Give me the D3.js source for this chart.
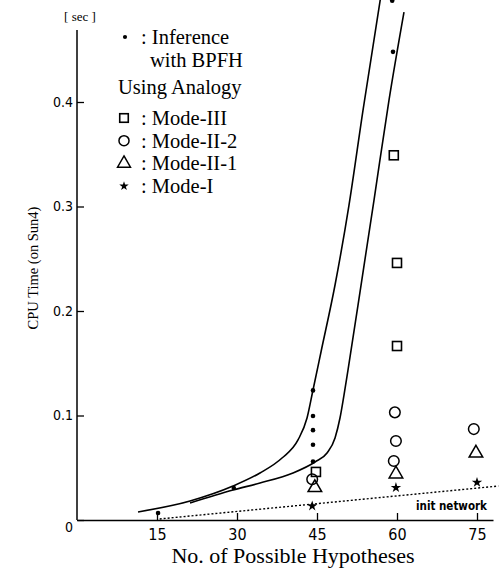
<!DOCTYPE html>
<html><head><meta charset="utf-8">
<script src="https://cdn.jsdelivr.net/npm/d3@7"></script>
<style>html,body{margin:0;padding:0;background:#fff;}svg{display:block;}</style>
</head><body>
<svg id="chart" width="499" height="572"></svg>
<script>
// ---- data ----
const xTicks = [15, 30, 45, 60, 75];
const yTicks = [0, 0.1, 0.2, 0.3, 0.4];
const yTickLabels = ["0", "0.1", "0.2", "0.3", "0.4"];

// Inference with BPFH (dots) [x, sec]
const bpfh = [[15.2, 0.0067], [29.4, 0.0306], [44.25, 0.124], [44.25, 0.0995], [44.25, 0.086], [44.25, 0.072], [44.25, 0.056], [59.25, 0.448], [59.1, 0.497]];
// Using analogy
const modeIII  = [[44.8, 0.046], [59.4, 0.349], [60.0, 0.246], [60.0, 0.1665]];
const modeII2  = [[44.1, 0.039], [59.6, 0.103], [59.8, 0.0756], [59.4, 0.0565], [74.4, 0.087]];
const modeII1  = [[44.6, 0.031], [59.8, 0.044], [74.8, 0.064]];
const modeI    = [[44.1, 0.0134], [59.8, 0.031], [75.0, 0.036]];
// fitted curves
const curveUpper = [[11.44, 0.0077], [21.19, 0.0182], [29.25, 0.0325], [34.31, 0.045], [38.44, 0.0593], [41.44, 0.0766], [43.13, 0.0976], [44.25, 0.1244], [45.75, 0.1608], [48.38, 0.2249], [51.0, 0.3014], [53.63, 0.3923], [57.0, 0.5024]];
const curveLower = [[21.19, 0.0163], [29.25, 0.0287], [34.31, 0.0354], [40.5, 0.045], [44.63, 0.0555], [46.88, 0.0641], [48.38, 0.0785], [49.31, 0.0976], [50.06, 0.1196], [50.81, 0.1435], [52.69, 0.2057], [55.69, 0.3062], [58.5, 0.4019], [61.31, 0.4861]];
// init network (dotted)
const initNetwork = [[15.5, 0.001], [79, 0.0325]];

const legendItems = [
  {sym: "square", label: ": Mode-III"},
  {sym: "circle", label: ": Mode-II-2"},
  {sym: "triangle", label: ": Mode-II-1"},
  {sym: "star", label: ": Mode-I"}
];

// ---- layout ----
const svg = d3.select("#chart");
const serif = "'Liberation Serif','Times New Roman',serif";
const sans = "'Liberation Sans Narrow','DejaVu Sans Condensed','Liberation Sans',sans-serif";

const x = d3.scaleLinear().domain([0, 78]).range([77, 493]);
const y = d3.scaleLinear().domain([0, 0.5]).range([520, -2.5]);

// axes
const yAxis = svg.append("g").attr("transform", `translate(${x(0)},0)`)
  .call(d3.axisLeft(y).tickValues(yTicks).tickSize(-7).tickPadding(4)
        .tickFormat((d, i) => yTickLabels[i]));
yAxis.select(".domain").remove();
yAxis.selectAll("line").attr("stroke", "#000").attr("stroke-width", 1.3);
yAxis.selectAll("text").attr("font-family", sans).attr("font-size", 14).attr("fill", "#000");
yAxis.selectAll(".tick").filter(d => d === 0).select("text").attr("dy", "0.8em");
svg.append("line").attr("x1", x(0)).attr("x2", x(0)).attr("y1", y(0)).attr("y2", y(0.469))
  .attr("stroke", "#000").attr("stroke-width", 1.5);

const xAxis = svg.append("g").attr("transform", `translate(0,${y(0)})`)
  .call(d3.axisBottom(x).tickValues(xTicks).tickSize(-7).tickSizeOuter(0).tickPadding(9));
xAxis.select(".domain").attr("stroke", "#000").attr("stroke-width", 1.5);
xAxis.selectAll("line").attr("stroke", "#000").attr("stroke-width", 1.3);
xAxis.selectAll("text").attr("font-family", sans).attr("font-size", 16).attr("fill", "#000");

// axis titles
svg.append("text").attr("x", 80).attr("y", 21).attr("text-anchor", "middle")
  .attr("font-family", serif).attr("font-size", 13).text("[ sec ]");
svg.append("text").attr("transform", "translate(38,268) rotate(-90)").attr("text-anchor", "middle")
  .attr("font-family", serif).attr("font-size", 14.5).text("CPU Time (on Sun4)");
svg.append("text").attr("x", 293).attr("y", 563).attr("text-anchor", "middle")
  .attr("font-family", serif).attr("font-size", 22).text("No. of Possible Hypotheses");

// curves
const line = d3.line().x(d => x(d[0])).y(d => y(d[1])).curve(d3.curveMonotoneX);
[curveUpper, curveLower].forEach(c => {
  svg.append("path").datum(c).attr("d", line).attr("fill", "none")
    .attr("stroke", "#000").attr("stroke-width", 1.6);
});
svg.append("path").datum(initNetwork).attr("d", d3.line().x(d => x(d[0])).y(d => y(d[1])))
  .attr("fill", "none").attr("stroke", "#000").attr("stroke-width", 1.4).attr("stroke-dasharray", "2,2");
svg.append("text").attr("x", 416).attr("y", 510).attr("font-family", sans)
  .attr("font-size", 11.5).attr("font-weight", "bold").text("init network");

// markers
function drawSym(g, type, cx, cy, scale) {
  scale = scale || 1;
  if (type === "dot") {
    g.append("circle").attr("cx", cx).attr("cy", cy).attr("r", 2.3 * scale).attr("fill", "#000");
  } else if (type === "square") {
    const s = 9 * scale;
    g.append("rect").attr("x", cx - s / 2).attr("y", cy - s / 2).attr("width", s).attr("height", s)
      .attr("fill", "none").attr("stroke", "#000").attr("stroke-width", 1.6);
  } else if (type === "circle") {
    g.append("circle").attr("cx", cx).attr("cy", cy).attr("r", 5.3 * scale)
      .attr("fill", "none").attr("stroke", "#000").attr("stroke-width", 1.5);
  } else if (type === "triangle") {
    g.append("path").attr("d", d3.symbol(d3.symbolTriangle, 80 * scale * scale)())
      .attr("transform", `translate(${cx},${cy})`)
      .attr("fill", "none").attr("stroke", "#000").attr("stroke-width", 1.5);
  } else if (type === "star") {
    g.append("path").attr("d", d3.symbol(d3.symbolStar, 34 * scale * scale)())
      .attr("transform", `translate(${cx},${cy})`).attr("fill", "#000");
  }
}
const mk = svg.append("g");
bpfh.forEach(d => drawSym(mk, "dot", x(d[0]), y(d[1])));
modeIII.forEach(d => drawSym(mk, "square", x(d[0]), y(d[1])));
modeII2.forEach(d => drawSym(mk, "circle", x(d[0]), y(d[1])));
modeII1.forEach(d => drawSym(mk, "triangle", x(d[0]), y(d[1])));
modeI.forEach(d => drawSym(mk, "star", x(d[0]), y(d[1])));

// legend
const lg = svg.append("g");
const fs = 20.5;
drawSym(lg, "dot", 125, 37, 0.9);
lg.append("text").attr("x", 141).attr("y", 44).attr("font-family", serif).attr("font-size", fs).text(": Inference");
lg.append("text").attr("x", 150).attr("y", 67).attr("font-family", serif).attr("font-size", fs).text("with BPFH");
lg.append("text").attr("x", 118).attr("y", 94).attr("font-family", serif).attr("font-size", fs).text("Using Analogy");
legendItems.forEach((it, i) => {
  const cy = 118 + i * 22.7;
  drawSym(lg, it.sym, 124, cy, it.sym === "star" ? 0.9 : 0.95);
  lg.append("text").attr("x", 141).attr("y", cy + 7).attr("font-family", serif).attr("font-size", fs).text(it.label);
});
</script>
</body></html>
